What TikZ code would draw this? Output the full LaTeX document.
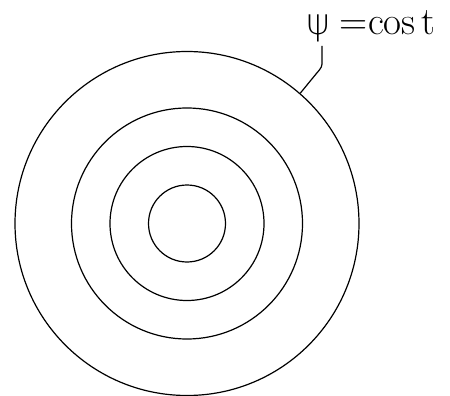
\documentclass[tikz,border=0pt]{standalone}
\usepackage{fontspec}
\newfontfamily\psifont{DejaVu Sans ExtraLight}
\begin{document}
\begin{tikzpicture}[x=1pt,y=-1pt,
  ring/.style={draw, circle, inner sep=0pt, line width=1.2pt},
  lead/.style={line width=1.2pt}]
\useasboundingbox (0,0) rectangle (450,396);
\node[ring, minimum size=77pt] (c1) at (187,223.5) {};
\node[ring, minimum size=154pt] (c2) at (187,223.5) {};
\node[ring, minimum size=231pt] (c3) at (187,223.5) {};
\node[ring, minimum size=344pt] (c4) at (187,223.5) {};
\node[anchor=base west, inner sep=0pt, font=\fontsize{39}{42}\selectfont] (lab) at (306,35) {{\psifont\fontsize{36}{40}\selectfont ψ}\hspace{10pt}=\hspace{0pt}cos\hspace{6pt}t};
\coordinate (lt) at (322,46);
\draw[lead] (c4.49) -- (316,74) .. controls (322,67) .. (322,61) -- (lt);
\end{tikzpicture}
\end{document}
